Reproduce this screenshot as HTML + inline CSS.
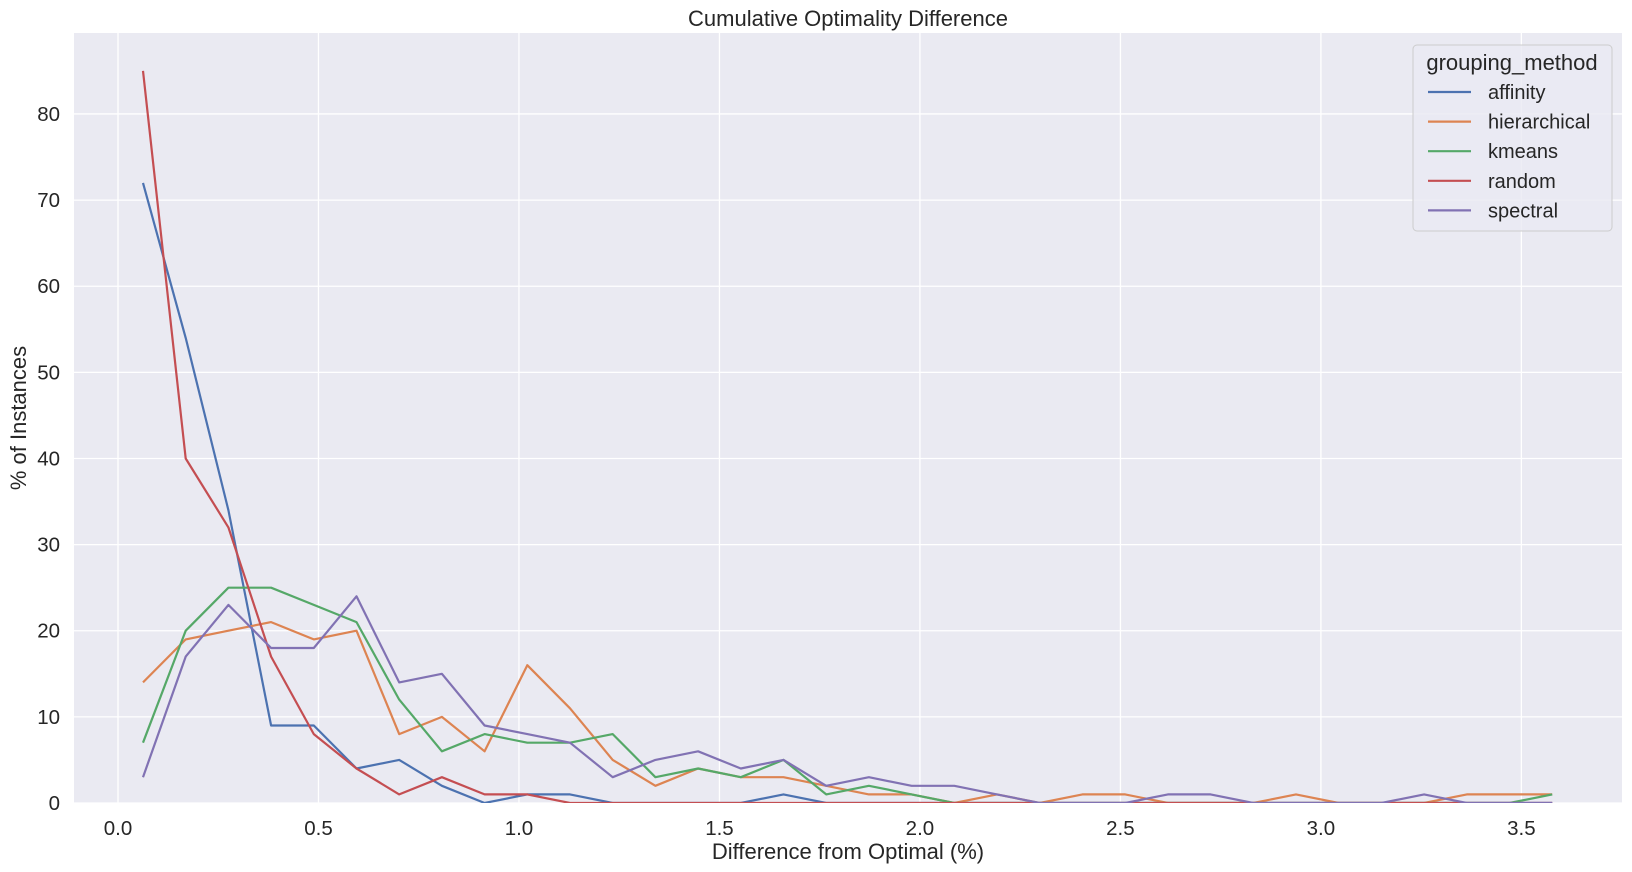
<!DOCTYPE html>
<html><head><meta charset="utf-8"><style>
html,body{margin:0;padding:0;background:#fff;}
svg{display:block;font-family:"Liberation Sans","DejaVu Sans",sans-serif;}
</style></head><body>
<svg id="chart" width="1632" height="872" viewBox="0 0 1632 872">
<rect x="74" y="33" width="1548" height="770" fill="#eaeaf2"/>
<g id="grid"></g>
<g id="ticks"></g>
<g id="series"></g>
<text x="848" y="26" text-anchor="middle" font-size="22" fill="#262626">Cumulative Optimality Difference</text>
<text x="848" y="859" text-anchor="middle" font-size="22" fill="#262626">Difference from Optimal (%)</text>
<text x="26" y="418" text-anchor="middle" font-size="22" fill="#262626" transform="rotate(-90 26 418)">% of Instances</text>
<g id="legend">
<rect x="1413" y="45" width="199" height="186" rx="4" fill="#eaeaf2" fill-opacity="0.8" stroke="#cccccc"/>
<text x="1512" y="70" text-anchor="middle" font-size="22" fill="#262626">grouping_method</text>
</g>
</svg>
<script>
const xValues=[0.0623,0.1688,0.2753,0.3818,0.4883,0.5948,0.7013,0.8078,0.9143,1.0208,1.1273,1.2338,1.3403,1.4468,1.5533,1.6598,1.7663,1.8728,1.9793,2.0858,2.1923,2.2988,2.4053,2.5118,2.6183,2.7248,2.8313,2.9378,3.0443,3.1508,3.2573,3.3638,3.4703,3.5768];
const seriesNames=["affinity","hierarchical","kmeans","random","spectral"];
const affinity=[72,54,34,9,9,4,5,2,0,1,1,0,0,0,0,1,0,0,0,0,0,0,0,0,0,0,0,0,0,0,0,0,0,0];
const hierarchical=[14,19,20,21,19,20,8,10,6,16,11,5,2,4,3,3,2,1,1,0,1,0,1,1,0,0,0,1,0,0,0,1,1,1];
const kmeans=[7,20,25,25,23,21,12,6,8,7,7,8,3,4,3,5,1,2,1,0,0,0,0,0,0,0,0,0,0,0,0,0,0,1];
const random=[85,40,32,17,8,4,1,3,1,1,0,0,0,0,0,0,0,0,0,0,0,0,0,0,0,0,0,0,0,0,0,0,0,0];
const spectral=[3,17,23,18,18,24,14,15,9,8,7,3,5,6,4,5,2,3,2,2,1,0,0,0,1,1,0,0,0,0,1,0,0,0];
const xTicks=[0,0.5,1,1.5,2,2.5,3,3.5];
const xTickLabels=["0.0","0.5","1.0","1.5","2.0","2.5","3.0","3.5"];
const yTicks=[0,10,20,30,40,50,60,70,80];
const yTickLabels=["0","10","20","30","40","50","60","70","80"];

const NS="http://www.w3.org/2000/svg";
const X0=74,X1=1622,Y0=33,Y1=803;
const xmin=-0.1097,xmax=3.7509,ymin=0,ymax=89.4;
function xs(v){return X0+(v-xmin)/(xmax-xmin)*(X1-X0);}
function ys(v){return Y1-(v-ymin)/(ymax-ymin)*(Y1-Y0);}
function mk(tag,attrs,parent){const e=document.createElementNS(NS,tag);for(const k in attrs)e.setAttribute(k,attrs[k]);parent.appendChild(e);return e;}
const grid=document.getElementById('grid'),ticks=document.getElementById('ticks'),ser=document.getElementById('series'),leg=document.getElementById('legend');
xTicks.forEach((t,i)=>{
  const l=mk('line',{x1:xs(t),x2:xs(t),y1:Y0,y2:Y1,stroke:'#fff','stroke-width':1.3},grid);
  
  
  const tx=mk('text',{x:xs(t),y:835,'text-anchor':'middle','font-size':20.5,fill:'#262626'},ticks);
  tx.textContent=xTickLabels[i];
  
  
});
yTicks.forEach((t,i)=>{
  const l=mk('line',{x1:X0,x2:X1,y1:ys(t),y2:ys(t),stroke:'#fff','stroke-width':1.3},grid);
  
  
  const tx=mk('text',{x:60,y:ys(t)+7,'text-anchor':'end','font-size':20.5,fill:'#262626'},ticks);
  tx.textContent=yTickLabels[i];
  
  
});
const colors=["#4c72b0","#dd8452","#55a868","#c44e52","#8172b3"];
const data=[affinity,hierarchical,kmeans,random,spectral];
const cp=mk('clipPath',{id:'clip'},document.getElementById('chart'));
mk('rect',{x:X0,y:Y0,width:X1-X0,height:Y1-Y0},cp);
ser.setAttribute('clip-path','url(#clip)');
data.forEach((arr,s)=>{
  const pts=arr.map((v,i)=>xs(xValues[i]).toFixed(1)+','+ys(v).toFixed(1)).join(' ');
  const p=mk('polyline',{points:pts,fill:'none',stroke:colors[s],'stroke-width':2.2,'stroke-linejoin':'round'},ser);
  
  
  const y=92+s*29.6;
  const ll=mk('line',{x1:1428,x2:1471,y1:y,y2:y,stroke:colors[s],'stroke-width':2.2},leg);
  
  
  const lt=mk('text',{x:1488,y:y+7,'font-size':20,fill:'#262626'},leg);
  lt.textContent=seriesNames[s];
  
  
});
</script>
</body></html>
